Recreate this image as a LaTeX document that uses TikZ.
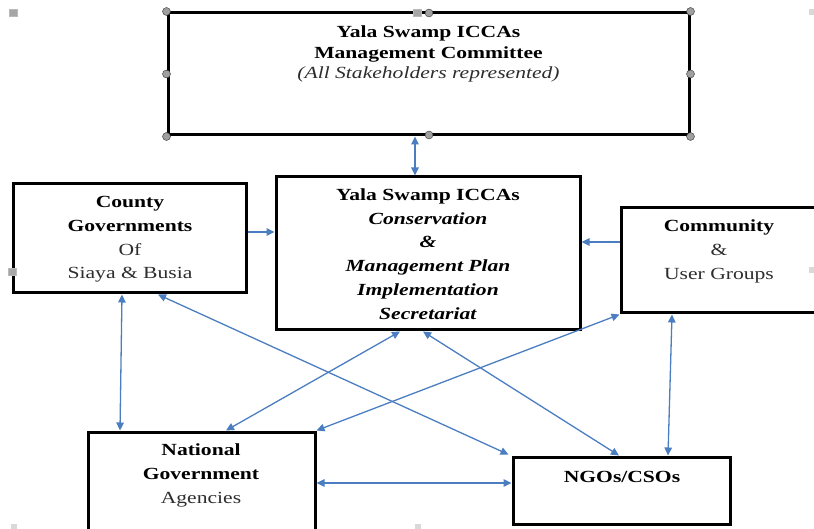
\documentclass[tikz,border=0pt]{standalone}
\usepackage{fontspec}
\setmainfont{Liberation Serif}[FakeStretch=1.27]
\usetikzlibrary{arrows.meta,calc}
\definecolor{arrowblue}{RGB}{74,126,192}
\definecolor{softtext}{RGB}{45,45,45}
\begin{document}
\begin{tikzpicture}[x=1pt,y=-1pt,
 box/.style={draw=black,line width=3pt,inner sep=0pt},
 txt/.style={align=center,inner sep=0pt,font=\fontsize{17}{23.8}\selectfont},
 link/.style={draw=arrowblue,line width=1.3pt,{Triangle[length=8pt,width=7.5pt]}-{Triangle[length=8pt,width=7.5pt]}},
 oneway/.style={draw=arrowblue,line width=1.3pt,-{Triangle[length=8pt,width=7.5pt]}},
 handle/.style={circle,fill=gray!75,draw=gray!40!black,line width=0.4pt,minimum size=8pt,inner sep=0pt},
 hsquare/.style={rectangle,fill=gray!70,draw=gray!55,line width=0.4pt,minimum width=8pt,minimum height=7pt,inner sep=0pt},
 faint/.style={rectangle,fill=gray!30,minimum width=6pt,minimum height=6pt,inner sep=0pt},
]
\useasboundingbox (0,0) rectangle (814,529);
\clip (0,0) rectangle (814,529);

% boxes
\node[box,minimum width=521pt,minimum height=122pt] (top) at (428.5,74) {};
\node[box,minimum width=233pt,minimum height=109pt] (county) at (129.5,238.5) {};
\node[box,minimum width=304pt,minimum height=153pt] (sec) at (428,253.5) {};
\node[box,minimum width=209pt,minimum height=105pt] (comm) at (725.5,260.5) {};
\node[box,minimum width=227pt,minimum height=108pt] (nat) at (201.5,486) {};
\node[box,minimum width=217pt,minimum height=67pt] (ngo) at (621.5,490.5) {};

% texts
\node[txt,font=\fontsize{17}{20.5}\selectfont] (topT) at (428.5,54) {\textbf{Yala Swamp ICCAs}\\\textbf{Management Committee}\\\textcolor{softtext}{\textit{(All Stakeholders represented)}}};
\node[txt] (countyT) at (130,239.5) {\textbf{County}\\\textbf{Governments}\\\textcolor{softtext}{Of}\\\textcolor{softtext}{Siaya \& Busia}};
\node[txt] (secT) at (428,254) {\textbf{Yala Swamp ICCAs}\\\textbf{\textit{Conservation}}\\\textbf{\textit{\&}}\\\textbf{\textit{Management Plan}}\\\textbf{\textit{Implementation}}\\\textbf{\textit{Secretariat}}};
\node[txt] (commT) at (719,251.5) {\textbf{Community}\\\textcolor{softtext}{\&}\\\textcolor{softtext}{User Groups}};
\node[txt] (natT) at (201,475.5) {\textbf{National}\\\textbf{Government}\\\textcolor{softtext}{Agencies}};
\node[txt] (ngoT) at (622,477) {\textbf{NGOs/CSOs}};

% connectors
\draw[link] ([xshift=-13.5pt]top.south) -- ([xshift=-13pt]sec.north);
\draw[oneway] ([yshift=6.5pt]county.east) -- ([yshift=6.5pt]county.east -| sec.west);
\draw[oneway] ([yshift=18.5pt]comm.west) -- ([yshift=18.5pt]comm.west -| sec.east);
\draw[link] ([xshift=-7.5pt]county.south) -- ([xshift=-81.5pt]nat.north);
\draw[link] ([xshift=28.5pt]county.south) -- ([xshift=-3pt,yshift=1pt]ngo.north west);
\draw[link] ([xshift=-28pt]sec.south) -- ([xshift=24.5pt]nat.north);
\draw[link] ([xshift=-5pt]sec.south) -- ([xshift=-2.5pt]ngo.north);
\draw[link] (comm.south west) -- (nat.north east);
\draw[link] ([xshift=-53.5pt]comm.south) -- ([xshift=46.5pt]ngo.north);
\draw[link] ([yshift=3pt]nat.east) -- ([yshift=3pt]nat.east -| ngo.west);

% selection handles on the committee box
\node[handle] (h1) at (top.north west) {};
\node[handle] (h2) at (top.north east) {};
\node[handle] (h3) at (top.south west) {};
\node[handle] (h4) at (top.south east) {};
\node[handle] (h5) at (top.west) {};
\node[handle] (h6) at (top.east) {};
\node[handle] (h7) at (429,13) {};
\node[handle] (h8) at (429,135) {};
\node[hsquare] (h9) at (417,13) {};

% stray marks
\node[hsquare] (m1) at (13,13) {};
\node[hsquare] (m2) at (12,272) {};
\node[faint] (m3) at (812,12) {};
\node[faint] (m4) at (812,270) {};
\node[faint] (m5) at (14,527) {};
\node[faint] (m6) at (418,527) {};
\end{tikzpicture}
\end{document}
